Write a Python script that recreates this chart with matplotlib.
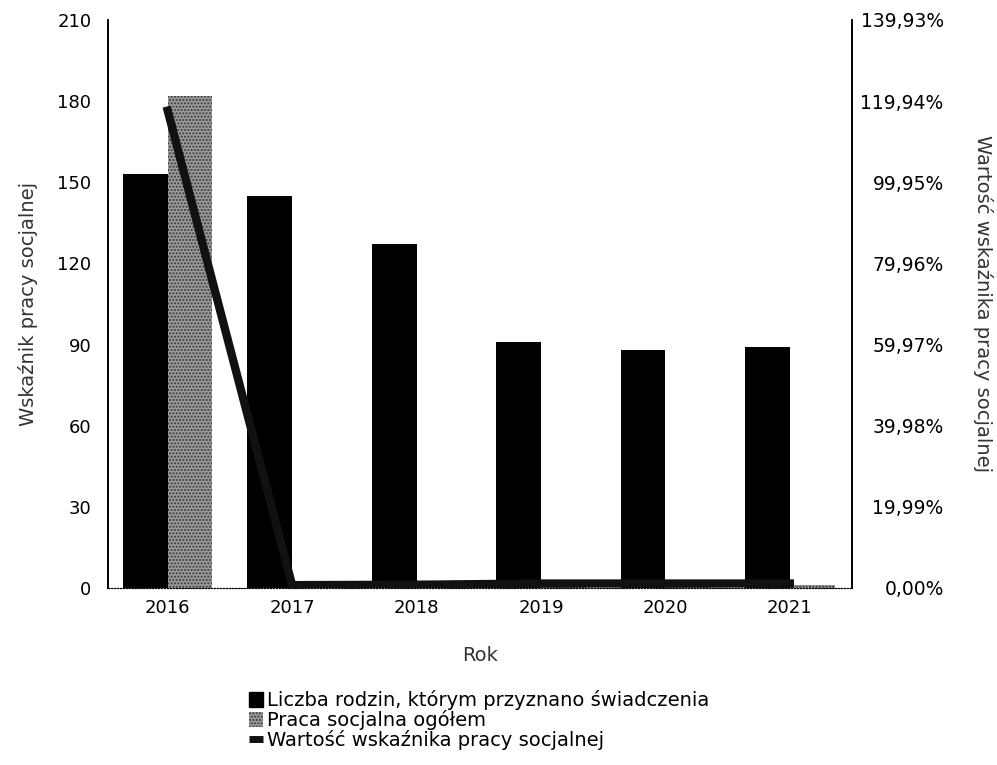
import matplotlib
matplotlib.use("Agg")
import matplotlib.pyplot as plt
import numpy as np
from matplotlib.patches import Patch
from matplotlib.lines import Line2D

years = ["2016", "2017", "2018", "2019", "2020", "2021"]
rodziny = [153, 145, 127, 91, 88, 89]
praca = [182, 1, 1, 1, 1, 1]
wskaznik = [117.6, 0.7, 0.8, 1.1, 1.1, 1.1]
left_ticks = [0, 30, 60, 90, 120, 150, 180, 210]
right_ticks = [0.00, 19.99, 39.98, 59.97, 79.96, 99.95, 119.94, 139.93]

plt.rcParams['font.family'] = ['DejaVu Sans']

fig = plt.figure(figsize=(9.97, 7.65), dpi=100)
ax = fig.add_axes([0.1083, 0.2314, 0.7463, 0.7425])
ax2 = ax.twinx()

x = np.arange(len(years))
w = 0.36
ax.bar(x - w / 2, rodziny, width=w, color='black', zorder=2)
ax.bar(x + w / 2, praca, width=w, facecolor='#9a9a9a', edgecolor='#3a3a3a',
       hatch='.....', linewidth=0, zorder=2)
ax2.plot(x, wskaznik, color='#111111', linewidth=6, zorder=3)

ax.set_xlim(-0.48, 5.5)
ax.set_ylim(0, 210)
ax.set_yticks(left_ticks)
ax.set_yticklabels([str(t) for t in left_ticks], fontsize=13)
ax.set_xticks(x)
ax.set_xticklabels(years, fontsize=13)
ax2.set_ylim(0, 139.93)
ax2.set_yticks(right_ticks)
ax2.set_yticklabels([f"{t:.2f}%".replace('.', ',') for t in right_ticks], fontsize=13.5,
                    ha='right')

ax.tick_params(axis='x', length=0, pad=8)
ax.tick_params(axis='y', length=0, pad=12)
ax2.tick_params(axis='y', length=0, pad=66)

for a in (ax, ax2):
    a.spines['top'].set_visible(False)
    a.spines['bottom'].set_linestyle(':')
    a.spines['bottom'].set_linewidth(0.8)
    a.spines['left'].set_linewidth(1.2)
    a.spines['right'].set_linewidth(1.2)

ax.set_xlabel("Rok", fontsize=14, color='#333333', va='center')
ax.xaxis.set_label_coords(0.5, -0.118)
ax.set_ylabel("Wskaźnik pracy socjalnej", fontsize=14, color='#333333', va='center')
ax.yaxis.set_label_coords(-0.1075, 0.5)
ax2.set_ylabel("Wartość wskaźnika pracy socjalnej", fontsize=14, rotation=270,
               color='#333333', va='center')
ax2.yaxis.set_label_coords(1.176, 0.5)

handles = [
    Patch(facecolor='black', edgecolor='black'),
    Patch(facecolor='#9a9a9a', edgecolor='#3a3a3a', hatch='.....', linewidth=0),
    Line2D([0], [0], color='#111111', linewidth=5, solid_capstyle='butt'),
]
labels = ["Liczba rodzin, którym przyznano świadczenia",
          "Praca socjalna ogółem",
          "Wartość wskaźnika pracy socjalnej"]
fig.legend(handles, labels, loc='upper left', bbox_to_anchor=(0.242, 0.108),
           frameon=False, fontsize=14, handlelength=0.7, handleheight=0.8,
           handletextpad=0.2, labelspacing=0.0, borderaxespad=0)

fig.savefig("out.png", dpi=100)
